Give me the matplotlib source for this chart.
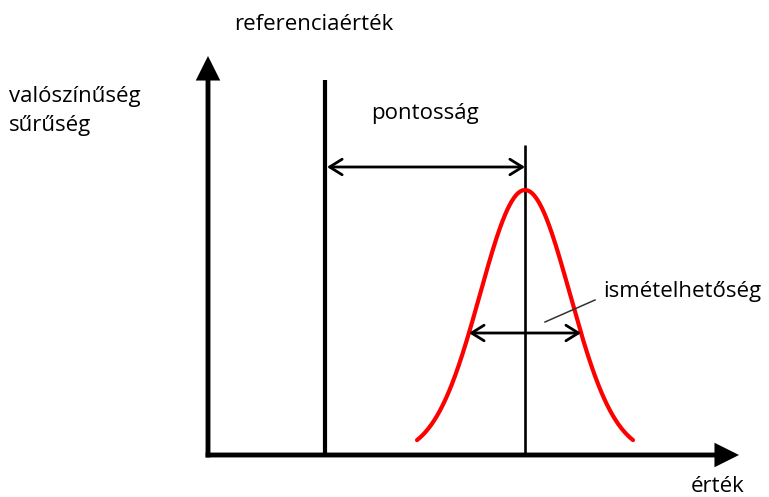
import numpy as np
import matplotlib
matplotlib.use("Agg")
import matplotlib.pyplot as plt

# --- diagram values (value axis units) ---
reference_value = 117.0      # referenciaérték
mean_value = 317.0           # mean of the measured distribution
sigma = 45.0                 # spread of the distribution
peak_density = 265.0         # height of the density curve at the mean
curve_extent = 2.4           # curve drawn to +/- this many sigmas
x_axis_end = 531.0
y_axis_end = 399.0
ref_line_top = 375.0
mean_line_top = 310.0
precision_level = 288.0
repeat_level = 122.0

labels = {
    "ref": "referenciaérték",
    "acc": "pontosság",
    "rep": "ismételhetőség",
    "ylab": "valószínűség\nsűrűség",
    "xlab": "érték",
}

plt.rcParams['font.family'] = ['Open Sans', 'DejaVu Sans']

fig = plt.figure(figsize=(7.69, 4.97), dpi=100)
ax = fig.add_axes([0, 0, 1, 1])
ax.set_xlim(-208, 561)
ax.set_ylim(-42, 455)
ax.axis('off')

axis_style = '-|>,head_length=0.6,head_width=0.3'
# axes with arrow heads
ax.annotate('', xy=(x_axis_end, 0), xytext=(-2.4, 0),
            arrowprops=dict(arrowstyle=axis_style, lw=3.5, color='black', capstyle='butt',
                            joinstyle='miter', mutation_scale=20, shrinkA=0, shrinkB=0))
ax.annotate('', xy=(0, y_axis_end), xytext=(0, -2.4),
            arrowprops=dict(arrowstyle=axis_style, lw=3.5, color='black', capstyle='butt',
                            joinstyle='miter', mutation_scale=20, shrinkA=0, shrinkB=0))

# reference line
ax.plot([reference_value, reference_value], [0, ref_line_top], color='black',
        lw=3.0, solid_capstyle='butt')
# mean line
ax.plot([mean_value, mean_value], [0, mean_line_top], color='black',
        lw=1.9, solid_capstyle='butt')

# density curve
xs = np.linspace(mean_value - curve_extent * sigma, mean_value + curve_extent * sigma, 300)
ys = peak_density * np.exp(-0.5 * ((xs - mean_value) / sigma) ** 2)
ax.plot(xs, ys, color='#ff0000', lw=3.0, solid_capstyle='round')

# accuracy arrow
ax.annotate('', xy=(mean_value, precision_level), xytext=(reference_value + 2, precision_level),
            arrowprops=dict(arrowstyle='<->,head_length=0.45,head_width=0.28', lw=2.0,
                            color='black', mutation_scale=20, shrinkA=0, shrinkB=0))
# repeatability arrow (width of the curve at repeat_level)
half_w = sigma * np.sqrt(2 * np.log(peak_density / repeat_level))
ax.annotate('', xy=(mean_value + half_w, repeat_level), xytext=(mean_value - half_w, repeat_level),
            arrowprops=dict(arrowstyle='<->,head_length=0.45,head_width=0.28', lw=2.0,
                            color='black', mutation_scale=20, shrinkA=0, shrinkB=0))

# leader line for repeatability
ax.plot([mean_value + 20, mean_value + 70], [133, 155], color='#333333', lw=1.1)

fs = 16
ax.text(reference_value - 11, 430, labels["ref"], fontsize=fs, ha='center', va='center')
ax.text(217, 342, labels["acc"], fontsize=fs, ha='center', va='center')
ax.text(-199, 344, labels["ylab"], fontsize=fs, ha='left', va='center', linespacing=1.5)
ax.text(395, 164, labels["rep"], fontsize=fs, ha='left', va='center')
ax.text(510, -32, labels["xlab"], fontsize=fs, ha='center', va='center')

fig.savefig('out.png', dpi=100, facecolor='white')
